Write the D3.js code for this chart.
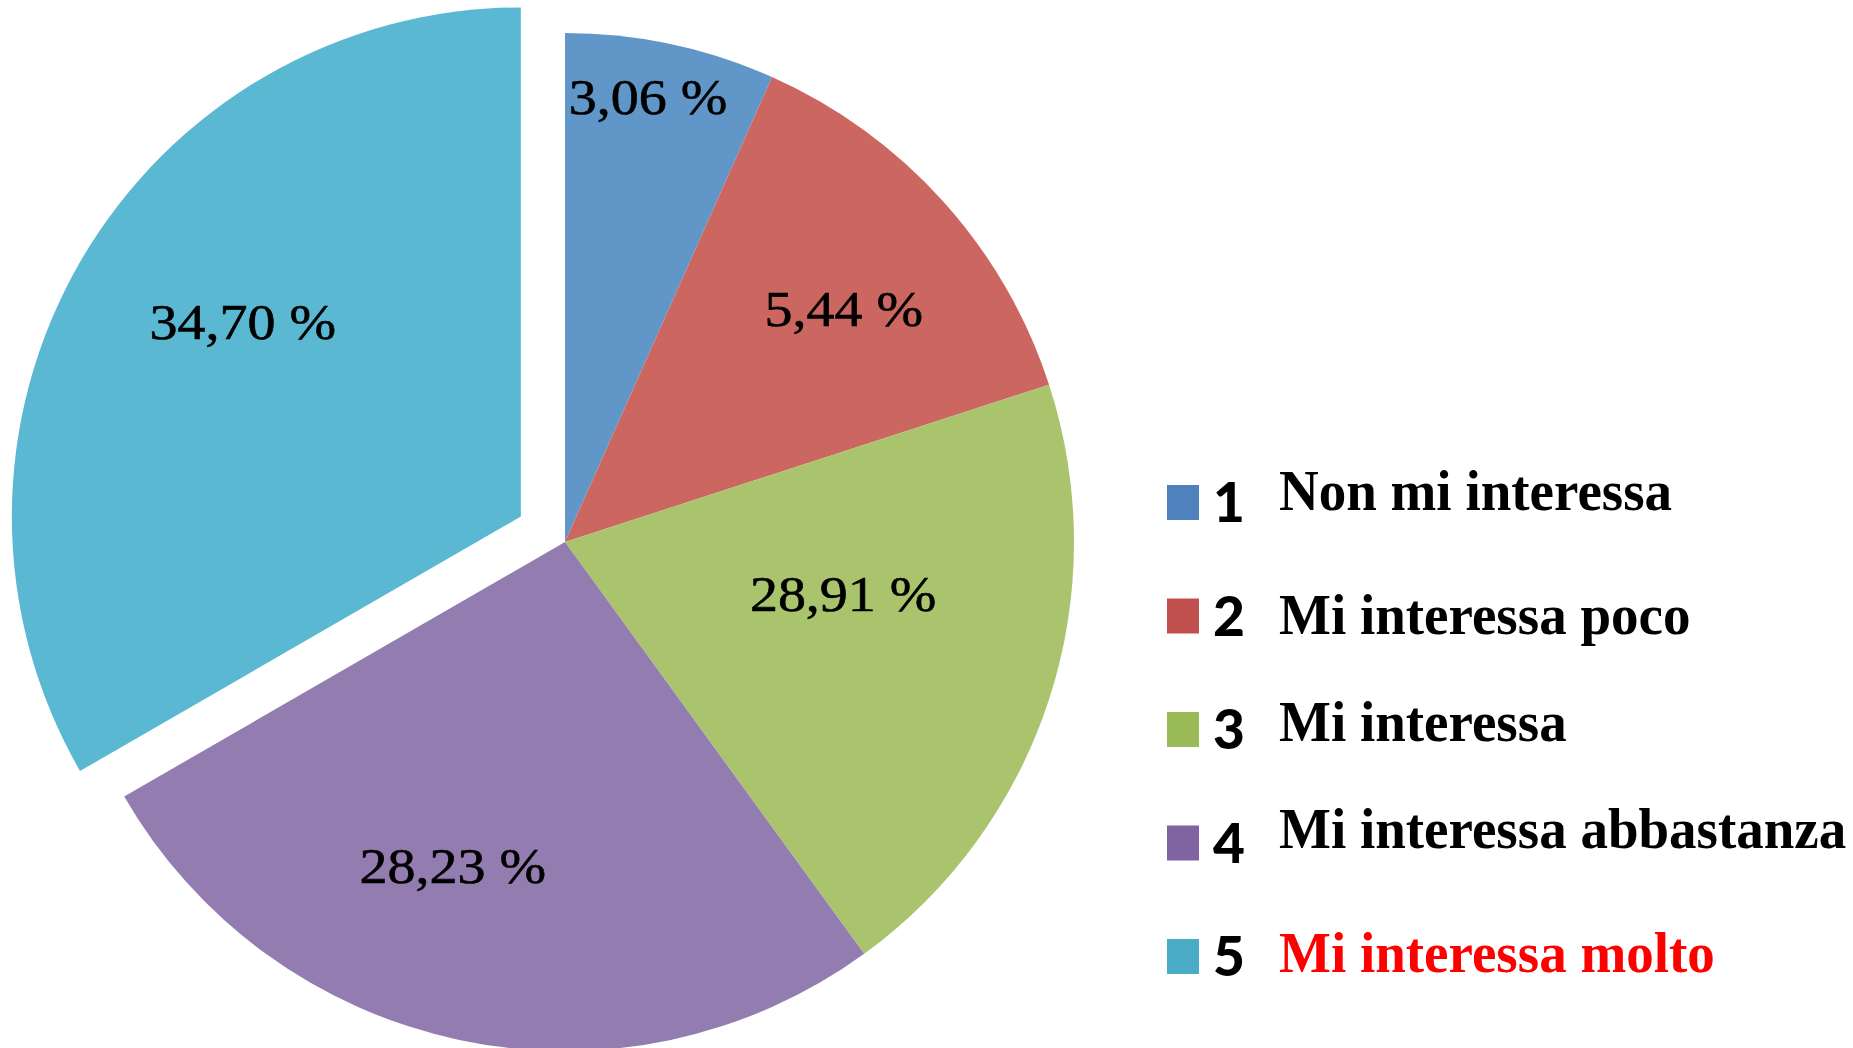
<!DOCTYPE html>
<html>
<head>
<meta charset="utf-8">
<script src="https://cdn.jsdelivr.net/npm/d3@7"></script>
<style>
  html, body { margin: 0; padding: 0; background: #ffffff; }
  svg { display: block; }
</style>
</head>
<body>
<svg id="chart" width="1853" height="1048"></svg>
<script>
// ---- data ----
const categories = ["1", "2", "3", "4", "5"];
const legendLabels = ["Non mi interessa", "Mi interessa poco", "Mi interessa", "Mi interessa abbastanza", "Mi interessa molto"];
const sliceValues = [1, 2, 3, 4, 5];
const percentLabels = ["3,06 %", "5,44 %", "28,91 %", "28,23 %", "34,70 %"];

// ---- layout / style ----
const W = 1853, H = 1048;
const cx = 565, cy = 542, R = 509;
const explodeIndex = 4, explodeOffset = 51;
const sliceColors = ["#6096C8", "#CC6660", "#AAC46E", "#937CB0", "#5BB8D2"];
const legendColors = ["#4F81BD", "#C0504D", "#9BBB59", "#8064A2", "#4BACC6"];
const legendTextColors = ["#000000", "#000000", "#000000", "#000000", "#FF0000"];
// label placement: fraction along the slice's angle span, fraction of radius
const labelPlacement = [[0.44, 0.89], [0.544, 0.714], [0.397, 0.556], [0.574, 0.674], [0.542, 0.667]];
// baseline shift of each legend text relative to its marker centre
const legendTextShift = [8, 18, 12, 5, 16];

const svg = d3.select("#chart");
svg.append("rect").attr("width", W).attr("height", H).attr("fill", "#fff");

const pie = d3.pie().sort(null).value(d => d);
const arcs = pie(sliceValues);
const arc = d3.arc().innerRadius(0).outerRadius(R);

const g = svg.append("g").attr("transform", `translate(${cx},${cy})`);

function offsetFor(d, i) {
  if (i !== explodeIndex) return [0, 0];
  const a = (d.startAngle + d.endAngle) / 2;
  return [Math.sin(a) * explodeOffset, -Math.cos(a) * explodeOffset];
}
function labelPos(d, i) {
  const o = offsetFor(d, i);
  const a = d.startAngle + labelPlacement[i][0] * (d.endAngle - d.startAngle);
  const r = R * labelPlacement[i][1];
  return [o[0] + Math.sin(a) * r, o[1] - Math.cos(a) * r];
}

g.selectAll("path.slice")
  .data(arcs)
  .join("path")
  .attr("class", "slice")
  .attr("d", arc)
  .attr("fill", (d, i) => sliceColors[i])
  .attr("transform", (d, i) => { const o = offsetFor(d, i); return `translate(${o[0]},${o[1]})`; });

g.selectAll("text.plabel")
  .data(arcs)
  .join("text")
  .attr("class", "plabel")
  .attr("transform", (d, i) => { const p = labelPos(d, i); return `translate(${p[0]},${p[1]}) scale(1.12,1)`; })
  .attr("dy", "0.34em")
  .attr("text-anchor", "middle")
  .attr("font-family", "'Liberation Serif', serif")
  .attr("font-size", 50)
  .attr("stroke", "#000")
  .attr("stroke-width", 0.6)
  .attr("fill", "#000")
  .text((d, i) => percentLabels[i]);

// ---- legend ----
const legendY = d3.scalePoint().domain(categories).range([502, 956]);
const lg = svg.append("g");
const items = lg.selectAll("g.item")
  .data(categories)
  .join("g")
  .attr("class", "item")
  .attr("transform", d => `translate(0,${legendY(d)})`);

items.append("rect")
  .attr("x", 1167).attr("y", -17)
  .attr("width", 32).attr("height", 35)
  .attr("fill", (d, i) => legendColors[i]);

items.append("text")
  .attr("x", 1213).attr("y", 20)
  .attr("font-family", "Lato, sans-serif")
  .attr("font-weight", 900)
  .attr("font-size", 55)
  .attr("fill", "#000")
  .text(d => d);

items.append("text")
  .attr("transform", (d, i) => `translate(1279,${legendTextShift[i]}) scale(0.965,1)`)
  .attr("font-family", "'Liberation Serif', serif")
  .attr("font-weight", "bold")
  .attr("font-size", 57)
  .attr("fill", (d, i) => legendTextColors[i])
  .text((d, i) => legendLabels[i]);
</script>
</body>
</html>
